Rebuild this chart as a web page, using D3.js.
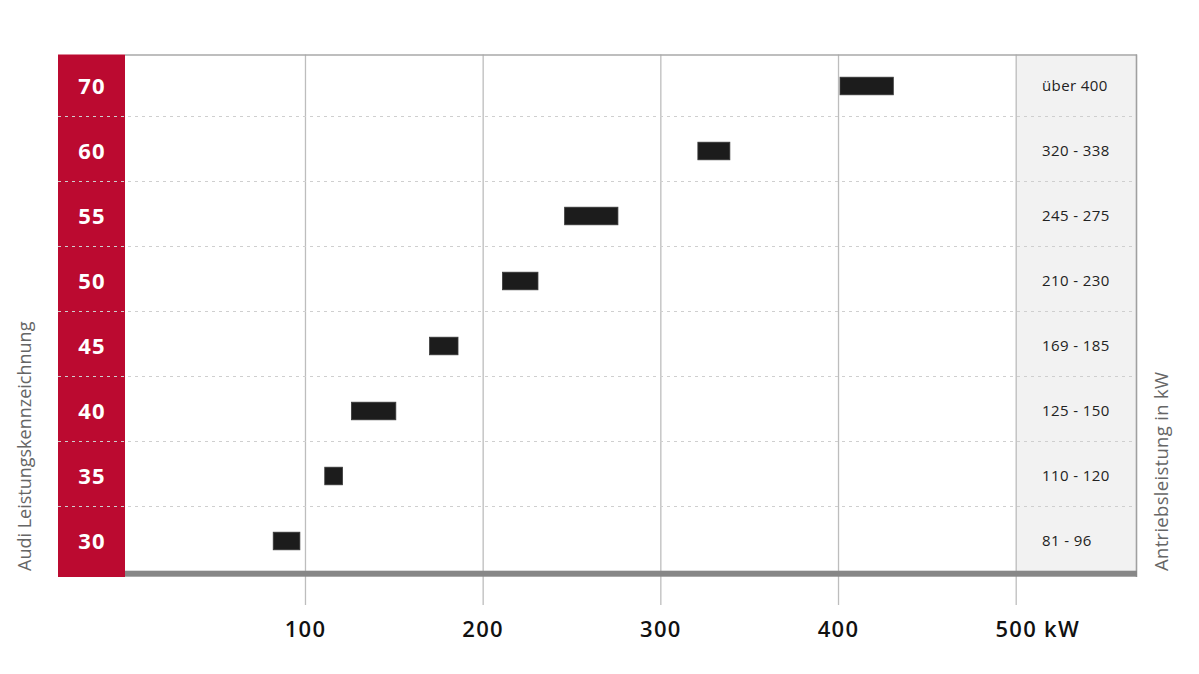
<!DOCTYPE html>
<html>
<head>
<meta charset="utf-8">
<script src="https://cdn.jsdelivr.net/npm/d3@7"></script>
<style>
  html, body { margin: 0; padding: 0; background: #fff; }
  svg { display: block; font-family: "Open Sans", "Noto Sans", sans-serif; }
</style>
</head>
<body>
<svg id="chart" width="1199" height="674"></svg>
<script>
// ---- data ----
const categories = ["70", "60", "55", "50", "45", "40", "35", "30"];
const rangeStart = [400, 320, 245, 210, 169, 125, 110, 81];
const rangeEnd   = [430, 338, 275, 230, 185, 150, 120, 96];
const rangeLabels = ["über 400", "320 - 338", "245 - 275", "210 - 230", "169 - 185", "125 - 150", "110 - 120", "81 - 96"];
const xTicks = [100, 200, 300, 400, 500];
const xUnit = "kW";
const leftTitle = "Audi Leistungskennzeichnung";
const rightTitle = "Antriebsleistung in kW";

const rows = categories.map((c, i) => ({ cat: c, start: rangeStart[i], end: rangeEnd[i], label: rangeLabels[i] }));

// ---- layout ----
const svg = d3.select("#chart");
const plotTop = 54.5, plotBottom = 571, bandLeft = 58, bandRight = 125, panelRight = 1137;
const x = d3.scaleLinear().domain([0, 500]).range([127.3, 1015.7]);
const y = d3.scaleBand().domain(categories).range([52, 572]).padding(0);
const rowC = d => y(d) + y.bandwidth() / 2 + 1.5;

// red band
svg.append("rect").attr("x", bandLeft).attr("y", plotTop)
  .attr("width", bandRight - bandLeft).attr("height", 577 - plotTop)
  .attr("fill", "#bb0a30");

// right panel
svg.append("rect").attr("x", x(500)).attr("y", plotTop)
  .attr("width", panelRight - x(500)).attr("height", plotBottom - plotTop)
  .attr("fill", "#f2f2f2");

// axis with grid lines
const axisY = 605;
const axis = svg.append("g").attr("transform", `translate(0,${axisY})`)
  .call(d3.axisBottom(x).tickValues(xTicks).tickSizeInner(-(axisY - plotTop)).tickSizeOuter(0).tickPadding(16));
axis.select(".domain").remove();
axis.selectAll(".tick line").attr("stroke", "#bdbdbd").attr("stroke-width", 1.3);
axis.selectAll(".tick text")
  .attr("fill", "#111").attr("font-size", 22).attr("font-weight", 600)
  .attr("letter-spacing", 1.3)
  .attr("font-family", "'Open Sans', sans-serif");
const lastText = axis.selectAll(".tick text").filter(d => d === xTicks[xTicks.length - 1]);
const wNum = lastText.node().getComputedTextLength();
lastText.text(xTicks[xTicks.length - 1] + " " + xUnit).attr("text-anchor", "start").attr("x", -wNum / 2);

// dashed separators
svg.append("g").selectAll("line").data(categories.slice(1)).join("line")
  .attr("x1", bandLeft).attr("x2", panelRight)
  .attr("y1", d => y(d) - 0.5).attr("y2", d => y(d) - 0.5)
  .attr("stroke", "#cfcfcf").attr("stroke-width", 1)
  .attr("stroke-dasharray", "3,4");

// borders
svg.append("line").attr("x1", bandRight).attr("x2", panelRight)
  .attr("y1", plotTop + 0.5).attr("y2", plotTop + 0.5)
  .attr("stroke", "#a8a8a8").attr("stroke-width", 1.6);
svg.append("line").attr("x1", panelRight - 0.5).attr("x2", panelRight - 0.5)
  .attr("y1", plotTop).attr("y2", 577)
  .attr("stroke", "#a0a0a0").attr("stroke-width", 1.6);
svg.append("rect").attr("x", bandRight).attr("y", 570.7)
  .attr("width", panelRight - bandRight).attr("height", 6)
  .attr("fill", "#878787");

// bars (drawn with a small rightward offset as in the reference)
svg.append("g").attr("transform", "translate(2,0)")
  .selectAll("rect").data(rows).join("rect")
  .attr("x", d => x(d.start)).attr("width", d => x(d.end) - x(d.start))
  .attr("y", d => rowC(d.cat) - 8.8).attr("height", 17.6)
  .attr("fill", "#1c1c1c").attr("stroke", "#3a3a3a").attr("stroke-width", 0.8);

// row labels in red band
svg.append("g").selectAll("text").data(rows).join("text")
  .attr("x", (bandLeft + bandRight) / 2 + 0.6).attr("y", d => rowC(d.cat))
  .attr("dy", "0.36em").attr("text-anchor", "middle")
  .attr("fill", "#fff").attr("font-size", 22).attr("font-weight", 700)
  .attr("letter-spacing", 1.2)
  .text(d => d.cat);

// range labels in panel
svg.append("g").selectAll("text").data(rows).join("text")
  .attr("x", 1042).attr("y", d => rowC(d.cat))
  .attr("dy", "0.36em").attr("text-anchor", "start")
  .attr("fill", "#222").attr("font-size", 15).attr("letter-spacing", 0.4)
  .text(d => d.label);

// axis titles
svg.append("text").attr("transform", "translate(31,571) rotate(-90)")
  .attr("text-anchor", "start").attr("fill", "#666").attr("font-size", 18)
  .text(leftTitle);
svg.append("text").attr("transform", "translate(1168,571) rotate(-90)")
  .attr("text-anchor", "start").attr("fill", "#666").attr("font-size", 18.5)
  .attr("letter-spacing", 0.3)
  .text(rightTitle);
</script>
</body>
</html>
